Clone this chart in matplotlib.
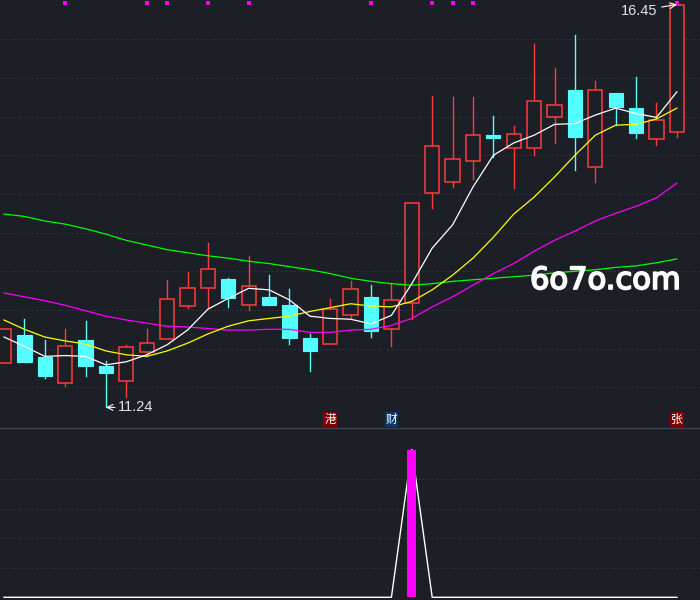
import matplotlib
matplotlib.use('Agg')
import matplotlib.pyplot as plt
import matplotlib.patheffects as pe
from matplotlib.patches import Rectangle
import numpy as np

# daily candles
opens = [11.81, 12.18, 11.89, 11.55, 12.11, 11.78, 11.58, 11.95, 12.12, 12.55,
         12.79, 12.90, 12.56, 12.67, 12.56, 12.14, 12.06, 12.44, 12.67, 12.25,
         12.59, 14.01, 14.15, 14.42, 14.76, 14.60, 14.60, 15.00, 15.34, 14.35,
         15.31, 15.11, 14.71, 14.80]
closes = [12.26, 11.83, 11.64, 12.04, 11.77, 11.68, 12.02, 12.07, 12.64, 12.79,
          13.03, 12.66, 12.81, 12.56, 12.14, 11.97, 12.51, 12.77, 12.23, 12.63,
          13.88, 14.62, 14.45, 14.76, 14.72, 14.77, 15.20, 15.15, 14.74, 15.34,
          15.13, 14.79, 14.95, 16.45]
highs = [12.26, 12.38, 12.11, 12.26, 12.36, 11.84, 12.05, 12.25, 12.89, 12.99,
         13.37, 12.91, 13.20, 12.95, 12.77, 12.19, 12.64, 12.87, 12.82, 12.85,
         13.88, 15.27, 15.25, 15.25, 15.01, 14.88, 15.94, 15.63, 16.06, 15.46,
         15.31, 15.51, 15.17, 16.45]
lows = [11.81, 11.83, 11.62, 11.52, 11.65, 11.24, 11.38, 11.90, 12.12, 12.52,
        12.54, 12.54, 12.50, 12.56, 12.06, 11.71, 12.06, 12.39, 12.15, 12.03,
        12.38, 13.82, 14.09, 14.19, 14.48, 14.08, 14.50, 14.66, 14.31, 14.16,
        14.89, 14.72, 14.63, 14.74]

ma5 = [12.15, 12.03, 11.90, 11.91, 11.90, 11.79, 11.83, 11.92, 12.05, 12.24,
       12.51, 12.65, 12.78, 12.76, 12.63, 12.42, 12.39, 12.38, 12.32, 12.43,
       12.84, 13.30, 13.60, 14.09, 14.50, 14.66, 14.76, 14.90, 14.91, 15.02,
       15.11, 15.04, 14.99, 15.32]
ma10 = [12.37, 12.25, 12.15, 12.10, 12.06, 11.97, 11.92, 11.90, 11.97, 12.07,
        12.19, 12.29, 12.36, 12.39, 12.42, 12.48, 12.53, 12.58, 12.55, 12.54,
        12.61, 12.76, 12.95, 13.17, 13.44, 13.74, 13.96, 14.22, 14.50, 14.76,
        14.89, 14.90, 14.97, 15.11]
ma30 = [12.72, 12.67, 12.62, 12.56, 12.49, 12.42, 12.37, 12.33, 12.29, 12.28,
        12.26, 12.24, 12.24, 12.25, 12.25, 12.21, 12.21, 12.24, 12.25, 12.30,
        12.39, 12.54, 12.67, 12.82, 12.97, 13.10, 13.26, 13.40, 13.52, 13.65,
        13.75, 13.84, 13.95, 14.14]
ma60 = [13.74, 13.71, 13.65, 13.61, 13.55, 13.48, 13.40, 13.34, 13.28, 13.24,
        13.20, 13.17, 13.13, 13.10, 13.06, 13.02, 12.97, 12.91, 12.87, 12.84,
        12.82, 12.84, 12.87, 12.89, 12.91, 12.93, 12.95, 12.98, 13.00, 13.02,
        13.05, 13.07, 13.11, 13.16]

# top markers and tags
signal_idx = [3, 7, 8, 10, 12, 18, 21, 22, 23, 33]
tag_idx = [16, 19, 33]
tag_text = ['港', '财', '张']

# lower indicator
ind_line = [0, 0, 0, 0, 0, 0, 0, 0, 0, 0, 0, 0, 0, 0, 0, 0, 0, 0, 0, 0,
            5.0, 0, 0, 0, 0, 0, 0, 0, 0, 0, 0, 0, 0, 0]
ind_bar = [0, 0, 0, 0, 0, 0, 0, 0, 0, 0, 0, 0, 0, 0, 0, 0, 0, 0, 0, 0,
           5.0, 0, 0, 0, 0, 0, 0, 0, 0, 0, 0, 0, 0, 0]

bg = '#1c1f26'
grid_c = '#30343d'
red = '#ff3c3c'
cyan = '#54ffff'

plt.rcParams['font.family'] = ['Liberation Sans', 'Noto Sans CJK SC', 'DejaVu Sans']

fig = plt.figure(figsize=(7, 6), dpi=100, facecolor=bg)
ax = fig.add_axes([0, 1 - 427 / 600, 1, 427 / 600])
ax2 = fig.add_axes([0, 0, 1, 172 / 600])
for a in (ax, ax2):
    a.set_facecolor(bg)
    for s in a.spines.values():
        s.set_visible(False)
    a.set_xticks([])
    a.set_yticks([])

n = len(opens)
x = np.arange(n)
xl = (-4 / 20.39, (700 - 4) / 20.39)

# grid
for p in np.arange(11.5, 16.01, 0.5):
    ax.axhline(p, color=grid_c, lw=0.8, dashes=(2, 2), zorder=0)
for v in [1, 2, 3, 4]:
    ax2.axhline(v, color=grid_c, lw=0.8, dashes=(2, 2), zorder=0)

w = 0.7
for i in range(n):
    o, c, h, l = opens[i], closes[i], highs[i], lows[i]
    if c >= o:
        ax.plot([i, i], [c, h], color=red, lw=1, zorder=2)
        ax.plot([i, i], [l, o], color=red, lw=1, zorder=2)
        ax.add_patch(Rectangle((i - w / 2, o), w, c - o, facecolor=bg,
                               edgecolor=red, lw=1.1, zorder=3))
    else:
        ax.plot([i, i], [l, h], color=cyan, lw=1, zorder=2)
        ax.add_patch(Rectangle((i - w / 2, c), w, o - c, facecolor=cyan,
                               edgecolor=cyan, lw=0.8, zorder=3))

ax.plot(x, ma60, color='#00ff00', lw=0.9, zorder=4)
ax.plot(x, ma30, color='#ff00ff', lw=0.9, zorder=4)
ax.plot(x, ma10, color='#ffff00', lw=0.9, zorder=4)
ax.plot(x, ma5, color='white', lw=0.9, zorder=4)

ax.plot(signal_idx, [0.994] * len(signal_idx), 's', color='#ff00ff', ms=2.3,
        mew=0, transform=ax.get_xaxis_transform(), clip_on=False, zorder=6)

tag_bg = {'港': '#800000', '财': '#0b3868', '张': '#800000'}
for i, t in zip(tag_idx, tag_text):
    ax.text(i, 0.017, t, color='white', fontsize=8.5, ha='center', va='center',
            family=['Noto Sans CJK SC', 'DejaVu Sans'],
            transform=ax.get_xaxis_transform(), zorder=7,
            bbox=dict(boxstyle='square,pad=0.08', fc=tag_bg[t], ec='none'))

# max / min labels
imax = int(np.argmax(highs))
imin = int(np.argmin(lows))
ax.annotate('%.2f' % highs[imax], xy=(imax, highs[imax]), xytext=(-14, -4.5),
            textcoords='offset points', ha='right', va='center', color='#dde3ea',
            fontsize=10.5, zorder=8,
            arrowprops=dict(arrowstyle='->', color='white', lw=0.8,
                            shrinkA=1, shrinkB=0))
ax.annotate('%.2f' % lows[imin], xy=(imin, lows[imin]), xytext=(8.5, 0),
            textcoords='offset points', ha='left', va='center', color='#dde3ea',
            fontsize=10.5, zorder=8,
            arrowprops=dict(arrowstyle='->', color='white', lw=0.8,
                            shrinkA=0, shrinkB=0))

ax.set_xlim(*xl)
ax.set_ylim(16 - (427 - 39.3) / 77.33, 16 + 39.3 / 77.33)

# lower panel
ax2.plot(x, ind_line, color='white', lw=1, zorder=3)
bx = [i for i in range(n) if ind_bar[i] > 0]
ax2.bar(bx, [ind_bar[i] for i in bx], width=0.44, color='#ff00ff', zorder=4)
ax2.set_xlim(*xl)
ax2.set_ylim(-2.7 / 29.55, (597.3 - 428) / 29.55)

fig.add_artist(plt.Line2D([0, 1], [1 - 427.5 / 600, 1 - 427.5 / 600],
                          color='#3c414a', lw=1))

fig.text(530 / 700, 1 - 289 / 600, '6o7o.com', color='white', fontsize=22,
         family='DejaVu Sans', ha='left', va='baseline',
         path_effects=[pe.withStroke(linewidth=1.3, foreground='white')])

fig.savefig('out.png', dpi=100, facecolor=bg)
